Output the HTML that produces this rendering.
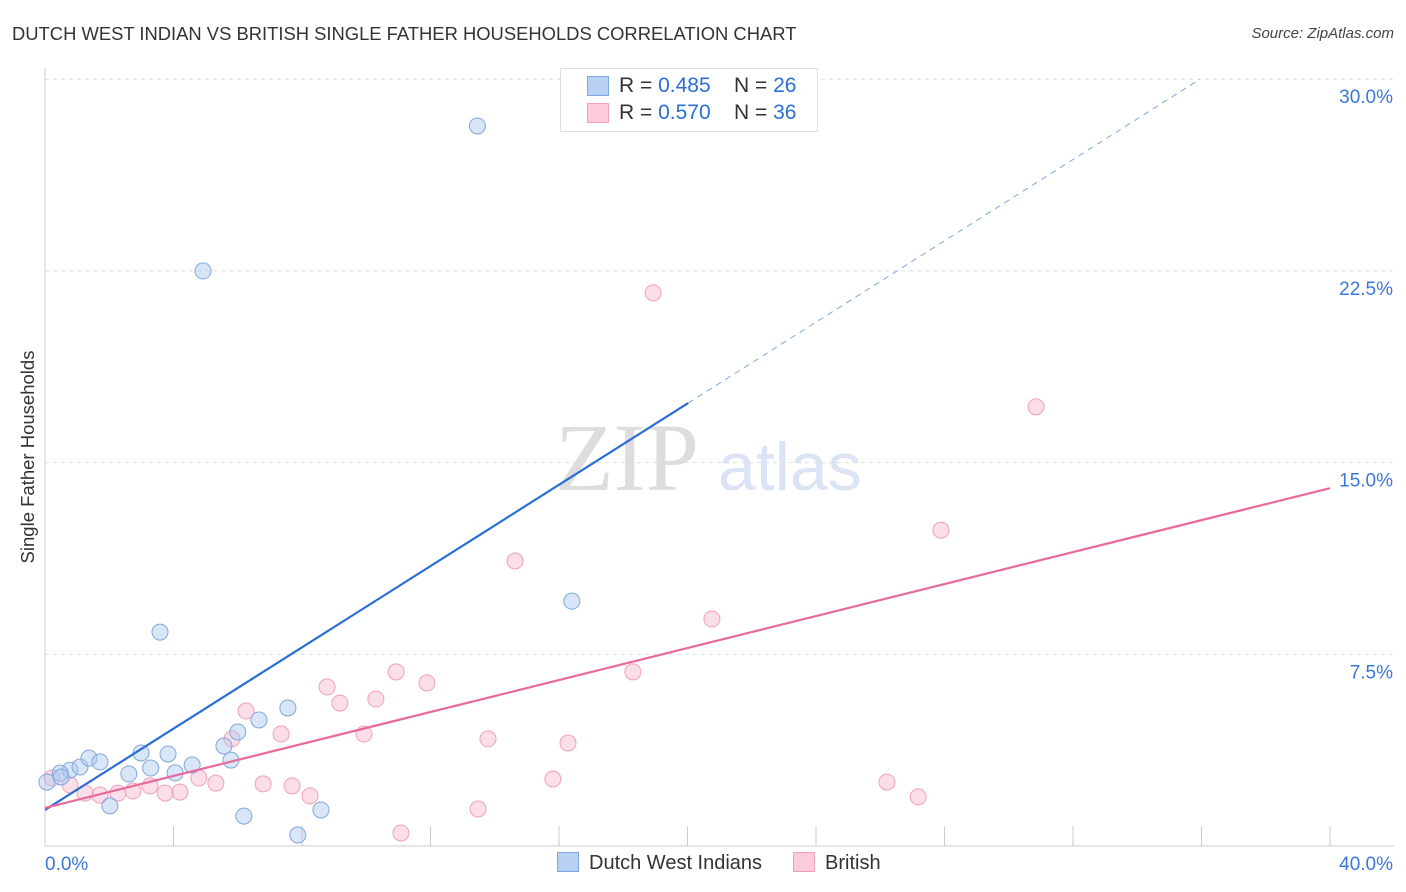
<!DOCTYPE html>
<html><head><meta charset="utf-8">
<style>
body{margin:0;background:#fff;font-family:"Liberation Sans",sans-serif;}
#wrap{position:relative;width:1406px;height:892px;overflow:hidden;}
.t{position:absolute;white-space:nowrap;}
</style></head>
<body>
<div id="wrap">
<div class="t" style="left:12px;top:23px;font-size:18.4px;color:#333;">DUTCH WEST INDIAN VS BRITISH SINGLE FATHER HOUSEHOLDS CORRELATION CHART</div>
<div class="t" style="right:12px;top:25px;font-size:15px;color:#444;font-style:italic;">Source: ZipAtlas.com</div>
<svg id="svg" width="1406" height="892" style="position:absolute;left:0;top:0"></svg>
</div>
<script>
const yTicks=[7.5,15,22.5,30];
const xTickLabels=["0.0%","40.0%"];
const blueX=[13.46,4.92,3.58,16.4,0.06,0.78,1.09,1.37,1.71,2.02,2.61,2.99,3.29,3.83,4.05,4.58,5.57,5.79,6.0,6.66,7.56,6.19,7.87,8.59,0.47,0.5];
const blueY=[28.17,22.5,8.37,9.58,2.5,2.97,3.09,3.44,3.29,1.57,2.82,3.64,3.05,3.6,2.86,3.17,3.91,3.36,4.46,4.93,5.4,1.17,0.43,1.41,2.85,2.7];
const pinkX=[18.93,30.85,27.89,14.63,20.76,18.3,10.93,11.89,8.78,10.3,9.18,6.26,5.82,7.35,9.93,13.79,16.28,15.81,26.21,27.18,13.48,11.08,0.22,0.78,1.25,1.71,2.27,2.74,3.27,3.74,4.2,4.79,5.32,6.79,7.69,8.25];
const pinkY=[21.64,17.18,12.36,11.15,8.88,6.81,6.81,6.38,6.22,5.75,5.59,5.28,4.19,4.38,4.38,4.19,4.03,2.62,2.5,1.92,1.45,0.51,2.66,2.39,2.07,1.99,2.07,2.15,2.35,2.07,2.11,2.66,2.46,2.43,2.35,1.96];
const blueLine=[0,1.41,20.02,17.33,35.95,30.0];
const pinkLine=[0,1.49,40,14.0];
const svg=document.getElementById('svg');const NS='http://www.w3.org/2000/svg';
const X=v=>45+v*32.125, Y=v=>846-v*25.56;
function mk(t,a){const e=document.createElementNS(NS,t);for(const k in a)e.setAttribute(k,a[k]);svg.appendChild(e);return e;}
let w=mk('text',{x:555,y:490,'font-size':96,'font-family':'Liberation Serif',fill:'#ddd'});w.textContent='ZIP';


w=mk('text',{x:718,y:490,'font-size':68,'font-family':'Liberation Sans',fill:'#dae4f4'});w.textContent='atlas';


yTicks.forEach(v=>{let l=mk('line',{x1:45,x2:1394,y1:Y(v),y2:Y(v),stroke:'#ddd','stroke-dasharray':'4,4'});


let t=mk('text',{x:1393,y:Y(v)+24,'text-anchor':'end','font-size':19,fill:'#3b78d8'});t.textContent=v.toFixed(1)+'%';

});
let ax=mk('line',{x1:45,x2:45,y1:68,y2:846,stroke:'#ccc'});
ax=mk('line',{x1:45,x2:1394,y1:846,y2:846,stroke:'#ccc'});
for(let i=1;i<=10;i++){let l=mk('line',{x1:X(i*4),x2:X(i*4),y1:826,y2:846,stroke:'#ccc'});

}
let tx=mk('text',{x:45,y:870,'font-size':19,fill:'#3b78d8'});tx.textContent=xTickLabels[0];
tx=mk('text',{x:1393,y:870,'text-anchor':'end','font-size':19,fill:'#3b78d8'});tx.textContent=xTickLabels[1];
let yl=mk('text',{x:34,y:457,transform:'rotate(-90 34 457)','text-anchor':'middle','font-size':18.5,fill:'#333'});yl.textContent='Single Father Households';

pinkX.forEach((x,i)=>{let c=mk('circle',{cx:X(x),cy:Y(pinkY[i]),r:8,fill:'rgba(248,182,204,0.45)',stroke:'#efa0bb','stroke-width':1});

});
blueX.forEach((x,i)=>{let c=mk('circle',{cx:X(x),cy:Y(blueY[i]),r:8,fill:'rgba(170,200,240,0.45)',stroke:'#7fa7de','stroke-width':1});

});
let l=mk('line',{x1:X(blueLine[0]),y1:Y(blueLine[1]),x2:X(blueLine[2]),y2:Y(blueLine[3]),stroke:'#2a6fd6','stroke-width':2.2});

l=mk('line',{x1:X(blueLine[2]),y1:Y(blueLine[3]),x2:X(blueLine[4]),y2:Y(blueLine[5]),stroke:'#7fa7de','stroke-width':1,'stroke-dasharray':'6,5'});

l=mk('line',{x1:X(pinkLine[0]),y1:Y(pinkLine[1]),x2:X(pinkLine[2]),y2:Y(pinkLine[3]),stroke:'#e8699a','stroke-width':2.2});

</script>
<div class="t" style="left:560px;top:68px;width:256px;height:62px;border:1px solid #ddd;background:#fff;font-size:21px;color:#333;">
<div style="position:absolute;left:26px;top:7px;width:20px;height:18px;background:#b7d0f3;border:1px solid #7fa7de"></div>
<div style="position:absolute;left:58px;top:5px">R = <span style="color:#2a6fd6">0.485</span>&nbsp;&nbsp;&nbsp; N = <span style="color:#2a6fd6">26</span></div>
<div style="position:absolute;left:26px;top:34px;width:20px;height:18px;background:#fbcbdb;border:1px solid #efa0bb"></div>
<div style="position:absolute;left:58px;top:32px">R = <span style="color:#2a6fd6">0.570</span>&nbsp;&nbsp;&nbsp; N = <span style="color:#2a6fd6">36</span></div>
</div>
<div class="t" style="left:557px;top:852px;font-size:20px;color:#333;"><span style="display:inline-block;width:20px;height:18px;background:#b7d0f3;border:1px solid #7fa7de;vertical-align:-3px;margin-right:10px"></span>Dutch West Indians</div>
<div class="t" style="left:793px;top:852px;font-size:20px;color:#333;"><span style="display:inline-block;width:20px;height:18px;background:#fbcbdb;border:1px solid #efa0bb;vertical-align:-3px;margin-right:10px"></span>British</div>
</body></html>
